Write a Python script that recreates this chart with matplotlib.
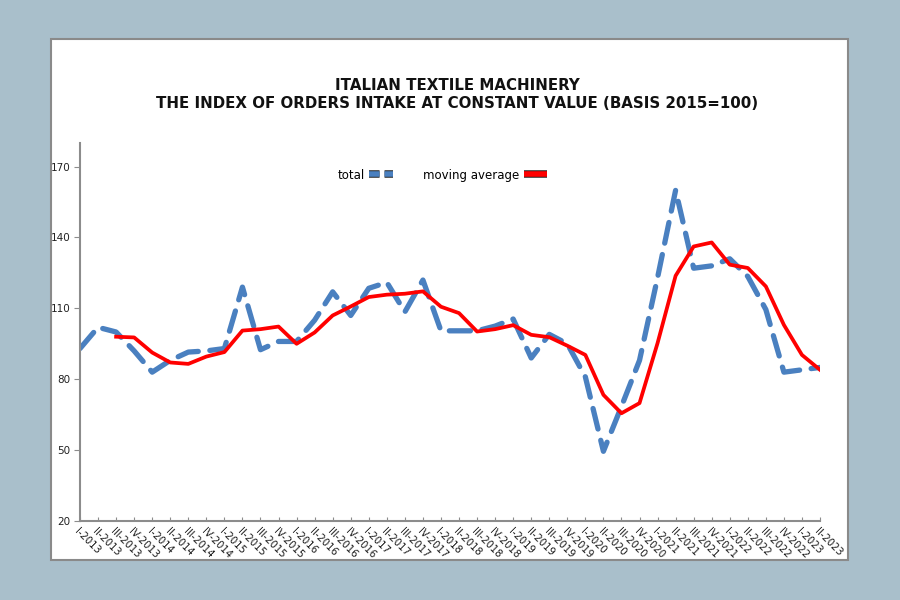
import numpy as np
import matplotlib.pyplot as plt
import matplotlib.patheffects as pe
from matplotlib.lines import Line2D
from matplotlib.patches import Rectangle

plt.rcParams['font.family'] = ['DejaVu Sans']

# quarters I-2013 .. II-2023
years = list(range(2013, 2024))
romans = ['I', 'II', 'III', 'IV']
quarters = [f'{r}-{y}' for y in years for r in romans][:42]

total = [93, 102, 100, 92, 83, 88, 91.5, 92, 93, 119, 92.5, 96,
         96, 105, 117, 107, 118.5, 121, 108.5, 122, 100.5, 100.5, 100.5, 102.5,
         105.5, 89, 99, 95, 81, 49.5, 68.5, 88, 123, 160, 127, 128,
         131, 123.5, 109.5, 83, 84, 85]

moving_avg = [np.nan, np.nan, 98, 97.7, 91.3, 87.1, 86.5, 89.6, 91.5, 100.6, 101.2, 102.3,
              95, 99.8, 107, 110.8, 114.8, 115.8, 116.2, 117.2, 110.7, 108, 100.2, 101.2,
              102.9, 98.8, 97.8, 94.2, 90.3, 73.4, 65.6, 69.9, 95.3, 123.8, 136.2, 137.9,
              128.5, 127.1, 119.3, 103, 90.3, 84]

yticks = [20, 50, 80, 110, 140, 170]

bg = '#a9bfcb'
blue = '#4a80c0'
red = '#ff0000'
axis_grey = '#8c8c8c'

fig = plt.figure(figsize=(9, 6), dpi=100)
fig.patch.set_facecolor(bg)
panel = Rectangle((51 / 900, 40 / 600), 797 / 900, 521 / 600,
                  transform=fig.transFigure, facecolor='white',
                  edgecolor='#8a8a8a', linewidth=1.5, zorder=-5)
fig.patches.append(panel)

ax = fig.add_axes([80 / 900, 79 / 600, 740 / 900, 378 / 600])
ax.set_facecolor('none')
ax.set_zorder(1)

x = np.arange(len(quarters))
ax.plot(x, total, color=blue, linewidth=3.8, linestyle=(0, (4.0, 2.2)),
        solid_capstyle='round', dash_capstyle='round', label='total')
ax.plot(x, moving_avg, color=red, linewidth=2.7, label='moving average')

ax.set_xlim(0, len(quarters) - 1)
ax.set_ylim(20, 180)
ax.set_yticks(yticks)
ax.tick_params(axis='y', direction='out', length=4, color=axis_grey,
               labelsize=7.5, labelcolor='#222222', pad=3)
ax.set_xticks(x)
ax.set_xticklabels(quarters, rotation=-45, ha='left', va='top',
                   rotation_mode='anchor', fontsize=7.2)
ax.tick_params(axis='x', direction='in', length=3, color=axis_grey,
               labelcolor='#1a1a1a', pad=4)

for s in ['top', 'right']:
    ax.spines[s].set_visible(False)
for s in ['left', 'bottom']:
    ax.spines[s].set_color(axis_grey)
    ax.spines[s].set_linewidth(1.5)

fig.text(0.508, 0.857, 'ITALIAN TEXTILE MACHINERY', ha='center', va='center',
         fontsize=10.8, fontweight='heavy', color='#111111')
fig.text(0.508, 0.827, 'THE INDEX OF ORDERS INTAKE AT CONSTANT VALUE (BASIS 2015=100)',
         ha='center', va='center', fontsize=10.8, fontweight='heavy', color='#111111')

outline = [pe.Stroke(linewidth=5.4, foreground='#222222'), pe.Normal()]
handles = [Line2D([], [], color=blue, linewidth=4.0, linestyle=(0, (1.9, 0.9)),
                  solid_capstyle='butt', path_effects=outline),
           Line2D([], [], color=red, linewidth=4.0, solid_capstyle='butt',
                  path_effects=outline)]
leg = ax.legend(handles, ['total', 'moving average'], loc='center',
                bbox_to_anchor=(0.49, 0.915), ncol=2, frameon=False,
                markerfirst=False, fontsize=8.5, handlelength=2.0,
                handletextpad=0.35, columnspacing=2.6)

fig.savefig('out.png', dpi=100, facecolor=fig.get_facecolor())
